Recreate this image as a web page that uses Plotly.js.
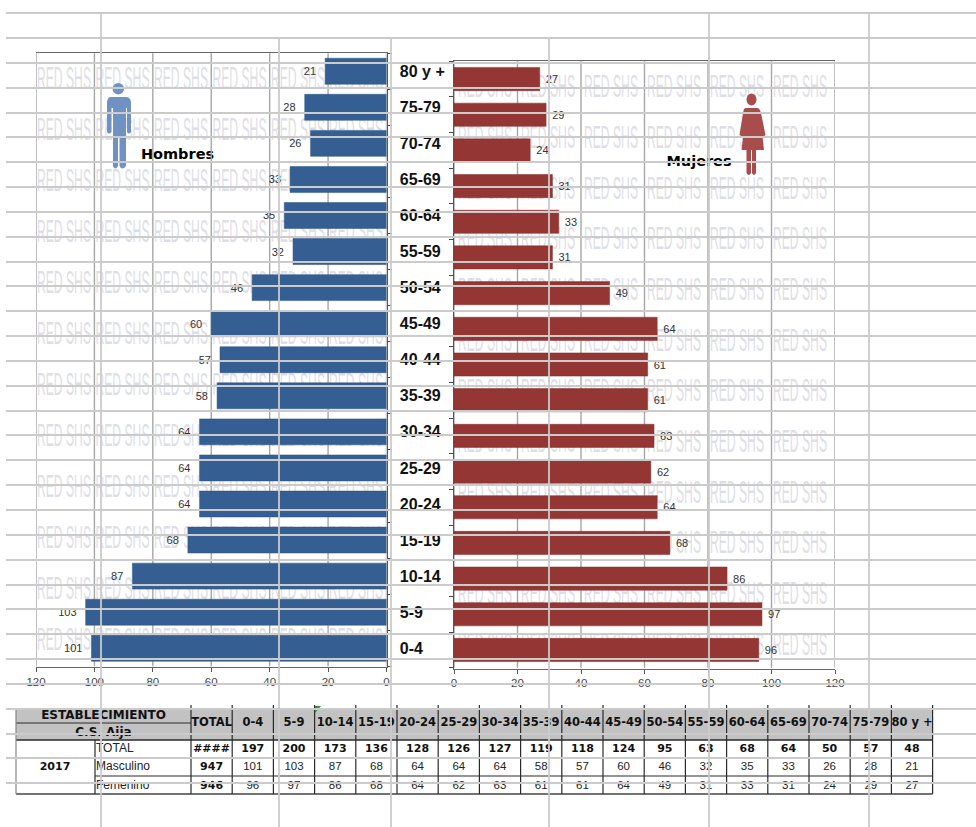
<!DOCTYPE html>
<html>
<head>
<meta charset="utf-8">
<title>Pirámide poblacional 2017 - C.S. Aija</title>
<script src="https://cdn.plot.ly/plotly-3.0.1.min.js"></script>
<style>html,body{margin:0;padding:0;background:#fff}</style>
</head>
<body>
<div id="chart" style="width:976px;height:827px"></div>
<script>
// Age groups, youngest first (bottom of the pyramid)
const ageGroups = ['0-4','5-9','10-14','15-19','20-24','25-29','30-34','35-39','40-44','45-49','50-54','55-59','60-64','65-69','70-74','75-79','80 y +'];
const hombres = [101,103,87,68,64,64,64,58,57,60,46,32,35,33,26,28,21];
const mujeres = [96,97,86,68,64,62,63,61,61,64,49,31,33,31,24,29,27];
const totales = [197,200,173,136,128,126,127,119,118,124,95,63,68,64,50,57,48];
const xTicks = [0,20,40,60,80,100,120];
const rowTotals = ['####','947','946'];
const rowNames = ['TOTAL','Masculino','Femenino'];

const W = 976, H = 827;
const FONT = 'Liberation Sans, Arial, sans-serif';
const BOLD = 'DejaVu Sans, Verdana, sans-serif';
const DARK = '#2a2a2a';

// Plot frames in page pixels
const leftFrame  = {x0: 36,  x1: 386.5, y0: 52.5, y1: 667};
const rightFrame = {x0: 454, x1: 835,   y0: 60.5, y1: 668.5};
const domX = f => [f.x0 / W, f.x1 / W];
const domY = f => [1 - f.y1 / H, 1 - f.y0 / H];

// Sheet grid that runs across the whole page
const sheetRows = [13,38,63,88,113,137,162,187,212,237,262,286,311,336,361,386,411,435,460,485,510,535,560,585,609,634,659,684,709,734,758,783];
const sheetCols = [[101,13],[279,38],[391,38],[549,38],[709,13],[869,13]];

// Table layout
const colStart = 191, colW = 41.2, colCount = 18;
const colEdges = Array.from({length: colCount + 1}, (_, i) => colStart + i * colW);
const colCentre = i => colEdges[i] + colW / 2;
const tableY = {top: 708, split: 723, head: 740, total: 758, masc: 776, fem: 794};

const shapes = [];
const line = (x0, y0, x1, y1, color, width, layer) =>
  shapes.push({type: 'line', xref: 'x', yref: 'y', x0, y0, x1, y1, layer: layer || 'above', line: {color, width}});

// Vertical value grid of both pyramids, under the bars
[['x2', 'y2'], ['x3', 'y3']].forEach(([xref, yref]) => xTicks.forEach(v => {
  shapes.push({type: 'line', xref, yref, x0: v, x1: v, y0: -0.5, y1: ageGroups.length - 0.5, layer: 'below', line: {color: '#a6a6a6', width: 1.4}});
}));

// Table fills and rules
shapes.push({type: 'rect', xref: 'x', yref: 'y', x0: 16, x1: colEdges[colCount], y0: tableY.top, y1: tableY.head,
  fillcolor: '#c2c2c2', line: {width: 0}, layer: 'below'});
shapes.push({type: 'path', xref: 'x', yref: 'y', path: 'M315,706 L321,706 L315,713 Z', fillcolor: '#1f9a3c', line: {width: 0}, layer: 'above'});
line(16, tableY.split, colStart, tableY.split, DARK, 1.2, 'below');
line(16, tableY.head, colEdges[colCount], tableY.head, DARK, 1.4, 'below');
line(95, tableY.total, colEdges[colCount], tableY.total, DARK, 1.2, 'below');
line(95, tableY.masc, colEdges[colCount], tableY.masc, DARK, 1.2, 'below');
line(16, tableY.fem, colEdges[colCount], tableY.fem, '#444', 1.4, 'below');
line(16, tableY.top, 16, tableY.fem, '#888', 1.2, 'below');
line(95, tableY.head, 95, tableY.fem, DARK, 1.2, 'below');
colEdges.forEach(x => line(x, tableY.top - 3, x, tableY.fem, DARK, 1.2, 'below'));

// Man pictogram
const manColor = '#6f92c3', womanColor = '#a84c4c';
shapes.push({type: 'circle', xref: 'x', yref: 'y', x0: 112.5, x1: 124, y0: 83, y1: 94.5, fillcolor: manColor, line: {width: 0}, layer: 'above'});
shapes.push({type: 'path', xref: 'x', yref: 'y', fillcolor: manColor, line: {width: 0}, layer: 'above',
  path: 'M110,97 L127,97 Q131,98 131,103 L131,132 Q129,135 127,132 L127,108 L126,108 L126,166 Q122,171 119.5,166 L119.5,136 L118,136 L118,166 Q115,171 113,166 L113,108 L111.5,108 L111.5,132 Q109,135 107,132 L107,103 Q107,98 110,97 Z'});

// Woman pictogram
shapes.push({type: 'circle', xref: 'x', yref: 'y', x0: 746.5, x1: 756.5, y0: 93.5, y1: 105.5, fillcolor: womanColor, line: {width: 0}, layer: 'above'});
shapes.push({type: 'path', xref: 'x', yref: 'y', fillcolor: womanColor, line: {width: 0}, layer: 'above',
  path: 'M745,108 L758,108 Q760,109 761,113 L765.5,135 L762.5,137 L764,150 L756,150 L756,173 Q754,177 752,173 L752,150 L751,150 L751,173 Q749,177 746.5,173 L746.5,150 L741.5,150 L743,137 L739.5,135 L743,113 Q743.5,109 745,108 Z'});

// Sheet grid sits on top of everything
sheetRows.forEach(y => line(6, y, W, y, '#cbcbcb', 1.8));
sheetCols.forEach(([x, y]) => line(x, y, x, H, '#cbcbcb', 1.8));

// Watermark tiles behind the bars
const markLabel = 'RED SHS';
const markSize = 15, markStretch = 2.1;
const leftMarks = {cols: [64, 122.5, 181, 239.5, 298, 356], firstRow: 79, rowStep: 51, rows: 12};
const rightMarks = {cols: [485, 548, 611, 674, 737, 800], firstRow: 87.5, rowStep: 50.7, rows: 12};
const markTrace = m => {
  const x = [], y = [];
  for (let r = 0; r < m.rows; r++) m.cols.forEach(c => { x.push(c); y.push(m.firstRow + r * m.rowStep); });
  return {type: 'scatter', mode: 'text', x, y, text: x.map(() => markLabel), textposition: 'middle center',
    textfont: {family: 'Liberation Sans Narrow, Liberation Sans, sans-serif', size: markSize, color: '#dedee6'}, hoverinfo: 'skip', showlegend: false, xaxis: 'x', yaxis: 'y', cliponaxis: false};
};

const textTrace = (x, y, text, family, size, color, position, weight) => ({
  type: 'scatter', mode: 'text', x, y, text, textposition: position || 'middle center',
  textfont: {family, size, color, weight: weight || 400}, hoverinfo: 'skip', showlegend: false, xaxis: 'x', yaxis: 'y', cliponaxis: false
});

const ages = ageGroups.map((_, i) => colCentre(i + 1));
const rowY = {total: 749, masc: 767, fem: 786};

const traces = [
  markTrace(leftMarks),
  markTrace(rightMarks),
  // Series captions
  textTrace([177.5], [155], ['Hombres'], BOLD, 14.5, '#000', 'middle center', 700),
  textTrace([699], [162], ['Mujeres'], BOLD, 14.5, '#000', 'middle center', 700),
  // Table headers
  textTrace([103.5, 103.5], [715.5, 733], ['ESTABLECIMIENTO', 'C.S. Aija'], BOLD, 12, '#111', 'middle center', 700),
  textTrace([colCentre(0)].concat(ages), ages.concat(0).map(() => 723.5), ['TOTAL'].concat(ageGroups), BOLD, 11.5, '#111', 'middle center', 700),
  // Table rows
  textTrace([colCentre(0)].concat(ages), ages.concat(0).map(() => rowY.total), [rowTotals[0]].concat(totales.map(String)), BOLD, 11, '#111', 'middle center', 700),
  textTrace(ages, ages.map(() => rowY.masc), hombres.map(String), FONT, 11.5, '#222'),
  textTrace(ages, ages.map(() => rowY.fem), mujeres.map(String), FONT, 11.5, '#222'),
  textTrace([colCentre(0), colCentre(0), 55], [rowY.masc, rowY.fem, 767], [rowTotals[1], rowTotals[2], '2017'], BOLD, 11, '#111', 'middle center', 700),
  textTrace([96, 96, 96], [rowY.total, rowY.masc, rowY.fem], rowNames, FONT, 12, '#222', 'middle right'),
  // Male bars
  {type: 'bar', orientation: 'h', name: 'Hombres', y: ageGroups, x: hombres, xaxis: 'x2', yaxis: 'y2', width: 0.72,
    marker: {color: '#355f93', line: {color: '#2b5283', width: 0.5}}, text: hombres.map(v => v + '\u00a0\u00a0'), textposition: 'outside', cliponaxis: false,
    textangle: 0, constraintext: 'none', textfont: {family: FONT, size: 11, color: '#333'}, hoverinfo: 'x+y', showlegend: false},
  // Female bars
  {type: 'bar', orientation: 'h', name: 'Mujeres', y: ageGroups, x: mujeres, xaxis: 'x3', yaxis: 'y3', width: 0.65,
    marker: {color: '#943634', line: {color: '#872f2d', width: 0.5}}, text: mujeres.map(v => '\u00a0' + v), textposition: 'outside', cliponaxis: false,
    textangle: 0, constraintext: 'none', textfont: {family: FONT, size: 11, color: '#333'}, hoverinfo: 'x+y', showlegend: false}
];

const valueAxis = (frame, range, anchor) => ({
  domain: domX(frame), range, anchor, tickmode: 'array', tickvals: xTicks, ticktext: xTicks.map(String),
  showgrid: false, zeroline: false, showline: true, mirror: true, linecolor: '#666', linewidth: 1.3,
  ticks: 'outside', ticklen: 4, tickcolor: '#555', tickfont: {family: FONT, size: 11.5, color: '#444'}, fixedrange: true
});
const layout = {
  width: W, height: H, autosize: false, margin: {l: 0, r: 0, t: 0, b: 0}, paper_bgcolor: '#fff', plot_bgcolor: 'rgba(0,0,0,0)',
  showlegend: false, hovermode: 'closest', shapes,
  xaxis: {domain: [0, 1], range: [0, W], visible: false, fixedrange: true},
  yaxis: {domain: [0, 1], range: [H, 0], visible: false, fixedrange: true},
  xaxis2: valueAxis(leftFrame, [120, 0], 'y2'),
  yaxis2: {domain: domY(leftFrame), anchor: 'x2', side: 'right', type: 'category', categoryorder: 'array', categoryarray: ageGroups,
    tickson: 'boundaries', ticks: 'outside', ticklen: 4, tickcolor: '#444', showline: true, linecolor: '#555', linewidth: 1.3, showgrid: false, zeroline: false,
    ticklabelstandoff: 9, tickfont: {family: FONT, size: 16, color: '#111', weight: 700}, fixedrange: true},
  xaxis3: valueAxis(rightFrame, [0, 120], 'y3'),
  yaxis3: {domain: domY(rightFrame), anchor: 'x3', side: 'left', type: 'category', categoryorder: 'array', categoryarray: ageGroups,
    tickson: 'boundaries', ticks: 'outside', ticklen: 4, tickcolor: '#444', showline: true, linecolor: '#555', linewidth: 1.3, showgrid: false, zeroline: false,
    showticklabels: false, fixedrange: true}
};

Plotly.newPlot('chart', traces, layout, {displayModeBar: false}).then(gd => {
  // Stretch the small watermark wording into tall, condensed lettering
  gd.querySelectorAll('.textpoint text').forEach(t => {
    if (t.textContent === markLabel) {
      const mid = parseFloat(t.getAttribute('y')) - 0.36 * markSize;
      t.setAttribute('textLength', '54');
      t.setAttribute('lengthAdjust', 'spacingAndGlyphs');
      t.setAttribute('transform', `translate(0 ${mid}) scale(1 ${markStretch}) translate(0 ${-mid})`);
    }
  });
});
</script>
</body>
</html>
